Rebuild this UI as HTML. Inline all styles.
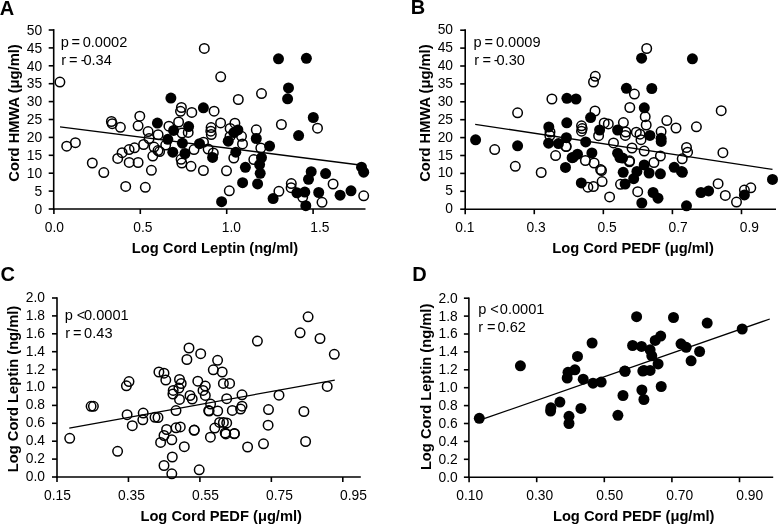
<!DOCTYPE html>
<html><head><meta charset="utf-8"><style>
html,body{margin:0;padding:0;background:#fff;}
body{width:778px;height:524px;overflow:hidden;}
svg{display:block;filter:grayscale(1);}
text{font-family:"Liberation Sans", sans-serif;fill:#000;}
.lbl{font-size:20px;font-weight:bold;}
.tk{font-size:13.8px;}
.st{font-size:14.6px;}
.tt{font-size:14.7px;font-weight:bold;}
.ax{stroke:#000;stroke-width:1.6;fill:none;}
.rl{stroke:#000;stroke-width:1.3;}
</style></head><body>
<svg width="778" height="524" viewBox="0 0 778 524">
<rect width="778" height="524" fill="#fff"/>
<text x="-0.2" y="14.7" class="lbl">A</text>
<line x1="53.7" y1="29.099999999999998" x2="53.7" y2="209.8" class="ax"/>
<line x1="52.900000000000006" y1="209.0" x2="365.5" y2="209.0" class="ax"/>
<line x1="48.7" y1="209.00" x2="53.7" y2="209.00" class="ax"/>
<text x="42.2" y="213.70" class="tk" text-anchor="end">0</text>
<line x1="48.7" y1="191.10" x2="53.7" y2="191.10" class="ax"/>
<text x="42.2" y="195.80" class="tk" text-anchor="end">5</text>
<line x1="48.7" y1="173.20" x2="53.7" y2="173.20" class="ax"/>
<text x="42.2" y="177.90" class="tk" text-anchor="end">10</text>
<line x1="48.7" y1="155.30" x2="53.7" y2="155.30" class="ax"/>
<text x="42.2" y="160.00" class="tk" text-anchor="end">15</text>
<line x1="48.7" y1="137.40" x2="53.7" y2="137.40" class="ax"/>
<text x="42.2" y="142.10" class="tk" text-anchor="end">20</text>
<line x1="48.7" y1="119.50" x2="53.7" y2="119.50" class="ax"/>
<text x="42.2" y="124.20" class="tk" text-anchor="end">25</text>
<line x1="48.7" y1="101.60" x2="53.7" y2="101.60" class="ax"/>
<text x="42.2" y="106.30" class="tk" text-anchor="end">30</text>
<line x1="48.7" y1="83.70" x2="53.7" y2="83.70" class="ax"/>
<text x="42.2" y="88.40" class="tk" text-anchor="end">35</text>
<line x1="48.7" y1="65.80" x2="53.7" y2="65.80" class="ax"/>
<text x="42.2" y="70.50" class="tk" text-anchor="end">40</text>
<line x1="48.7" y1="47.90" x2="53.7" y2="47.90" class="ax"/>
<text x="42.2" y="52.60" class="tk" text-anchor="end">45</text>
<line x1="48.7" y1="30.00" x2="53.7" y2="30.00" class="ax"/>
<text x="42.2" y="34.70" class="tk" text-anchor="end">50</text>
<line x1="53.90" y1="209.0" x2="53.90" y2="214.0" class="ax"/>
<line x1="140.30" y1="209.0" x2="140.30" y2="214.0" class="ax"/>
<line x1="226.70" y1="209.0" x2="226.70" y2="214.0" class="ax"/>
<line x1="313.10" y1="209.0" x2="313.10" y2="214.0" class="ax"/>
<text x="54.40" y="232" class="tk" text-anchor="middle">0.0</text>
<text x="142.90" y="232" class="tk" text-anchor="middle">0.5</text>
<text x="231.40" y="232" class="tk" text-anchor="middle">1.0</text>
<text x="319.90" y="232" class="tk" text-anchor="middle">1.5</text>
<text x="215.0" y="253.1" class="tt" text-anchor="middle">Log Cord Leptin (ng/ml)</text>
<text transform="translate(19.1,113) rotate(-90)" x="0" y="0" class="tt" text-anchor="middle">Cord HMWA (μg/ml)</text>
<text y="46.60" class="st"><tspan x="60.70">p</tspan><tspan x="71.40">=</tspan><tspan x="82.70">0.0002</tspan></text>
<text y="64.60" class="st"><tspan x="61.15">r</tspan><tspan x="69.00">=</tspan><tspan x="80.70">-</tspan><tspan x="83.40">0.34</tspan></text>
<line x1="60" y1="126.8" x2="360" y2="165.0" class="rl"/>
<circle cx="59.9" cy="82.1" r="4.75" fill="none" stroke="#000" stroke-width="1.5"/>
<circle cx="204.3" cy="48.4" r="4.75" fill="none" stroke="#000" stroke-width="1.5"/>
<circle cx="220.7" cy="76.8" r="4.75" fill="none" stroke="#000" stroke-width="1.5"/>
<circle cx="170.9" cy="98.1" r="5.5" fill="#000"/>
<circle cx="203.4" cy="107.8" r="5.5" fill="#000"/>
<circle cx="181.4" cy="107.5" r="4.75" fill="none" stroke="#000" stroke-width="1.5"/>
<circle cx="180.5" cy="111.3" r="4.75" fill="none" stroke="#000" stroke-width="1.5"/>
<circle cx="191.8" cy="112.4" r="4.75" fill="none" stroke="#000" stroke-width="1.5"/>
<circle cx="214.1" cy="111.2" r="4.75" fill="none" stroke="#000" stroke-width="1.5"/>
<circle cx="238.3" cy="99.5" r="4.75" fill="none" stroke="#000" stroke-width="1.5"/>
<circle cx="261.5" cy="93.6" r="4.75" fill="none" stroke="#000" stroke-width="1.5"/>
<circle cx="278.5" cy="58.8" r="5.5" fill="#000"/>
<circle cx="306.4" cy="58.3" r="5.5" fill="#000"/>
<circle cx="288.5" cy="87.9" r="5.5" fill="#000"/>
<circle cx="287.6" cy="98.8" r="5.5" fill="#000"/>
<circle cx="313.3" cy="117.5" r="5.5" fill="#000"/>
<circle cx="317.5" cy="128.2" r="4.75" fill="none" stroke="#000" stroke-width="1.5"/>
<circle cx="281.4" cy="124.5" r="4.75" fill="none" stroke="#000" stroke-width="1.5"/>
<circle cx="139.8" cy="116.2" r="4.75" fill="none" stroke="#000" stroke-width="1.5"/>
<circle cx="138.1" cy="125.8" r="4.75" fill="none" stroke="#000" stroke-width="1.5"/>
<circle cx="148.1" cy="131.6" r="4.75" fill="none" stroke="#000" stroke-width="1.5"/>
<circle cx="149.1" cy="138.6" r="4.75" fill="none" stroke="#000" stroke-width="1.5"/>
<circle cx="158.1" cy="134.7" r="4.75" fill="none" stroke="#000" stroke-width="1.5"/>
<circle cx="168.9" cy="126.2" r="4.75" fill="none" stroke="#000" stroke-width="1.5"/>
<circle cx="178.6" cy="122.0" r="4.75" fill="none" stroke="#000" stroke-width="1.5"/>
<circle cx="188.2" cy="132.4" r="4.75" fill="none" stroke="#000" stroke-width="1.5"/>
<circle cx="182.0" cy="133.1" r="4.75" fill="none" stroke="#000" stroke-width="1.5"/>
<circle cx="66.7" cy="146.2" r="4.75" fill="none" stroke="#000" stroke-width="1.5"/>
<circle cx="75.4" cy="142.7" r="4.75" fill="none" stroke="#000" stroke-width="1.5"/>
<circle cx="111.4" cy="121.5" r="4.75" fill="none" stroke="#000" stroke-width="1.5"/>
<circle cx="112.2" cy="123.7" r="4.75" fill="none" stroke="#000" stroke-width="1.5"/>
<circle cx="120.4" cy="127.3" r="4.75" fill="none" stroke="#000" stroke-width="1.5"/>
<circle cx="92.3" cy="163.0" r="4.75" fill="none" stroke="#000" stroke-width="1.5"/>
<circle cx="103.8" cy="172.6" r="4.75" fill="none" stroke="#000" stroke-width="1.5"/>
<circle cx="117.7" cy="158.4" r="4.75" fill="none" stroke="#000" stroke-width="1.5"/>
<circle cx="122.1" cy="152.7" r="4.75" fill="none" stroke="#000" stroke-width="1.5"/>
<circle cx="129.2" cy="162.4" r="4.75" fill="none" stroke="#000" stroke-width="1.5"/>
<circle cx="138.1" cy="162.5" r="4.75" fill="none" stroke="#000" stroke-width="1.5"/>
<circle cx="129.1" cy="149.6" r="4.75" fill="none" stroke="#000" stroke-width="1.5"/>
<circle cx="134.5" cy="147.8" r="4.75" fill="none" stroke="#000" stroke-width="1.5"/>
<circle cx="143.6" cy="144.5" r="4.75" fill="none" stroke="#000" stroke-width="1.5"/>
<circle cx="154.0" cy="147.1" r="4.75" fill="none" stroke="#000" stroke-width="1.5"/>
<circle cx="159.6" cy="151.6" r="4.75" fill="none" stroke="#000" stroke-width="1.5"/>
<circle cx="158.0" cy="150.6" r="4.75" fill="none" stroke="#000" stroke-width="1.5"/>
<circle cx="152.8" cy="156.1" r="4.75" fill="none" stroke="#000" stroke-width="1.5"/>
<circle cx="151.4" cy="170.3" r="4.75" fill="none" stroke="#000" stroke-width="1.5"/>
<circle cx="125.7" cy="186.4" r="4.75" fill="none" stroke="#000" stroke-width="1.5"/>
<circle cx="145.3" cy="187.3" r="4.75" fill="none" stroke="#000" stroke-width="1.5"/>
<circle cx="165.7" cy="145.1" r="4.75" fill="none" stroke="#000" stroke-width="1.5"/>
<circle cx="181.1" cy="159.3" r="4.75" fill="none" stroke="#000" stroke-width="1.5"/>
<circle cx="181.8" cy="163.1" r="4.75" fill="none" stroke="#000" stroke-width="1.5"/>
<circle cx="191.0" cy="166.3" r="4.75" fill="none" stroke="#000" stroke-width="1.5"/>
<circle cx="203.4" cy="170.5" r="4.75" fill="none" stroke="#000" stroke-width="1.5"/>
<circle cx="226.5" cy="170.8" r="4.75" fill="none" stroke="#000" stroke-width="1.5"/>
<circle cx="229.3" cy="190.8" r="4.75" fill="none" stroke="#000" stroke-width="1.5"/>
<circle cx="194.0" cy="149.6" r="4.75" fill="none" stroke="#000" stroke-width="1.5"/>
<circle cx="208.1" cy="149.0" r="4.75" fill="none" stroke="#000" stroke-width="1.5"/>
<circle cx="213.3" cy="153.0" r="4.75" fill="none" stroke="#000" stroke-width="1.5"/>
<circle cx="203.5" cy="142.2" r="4.75" fill="none" stroke="#000" stroke-width="1.5"/>
<circle cx="211.1" cy="127.6" r="4.75" fill="none" stroke="#000" stroke-width="1.5"/>
<circle cx="210.8" cy="131.2" r="4.75" fill="none" stroke="#000" stroke-width="1.5"/>
<circle cx="211.3" cy="134.5" r="4.75" fill="none" stroke="#000" stroke-width="1.5"/>
<circle cx="220.6" cy="122.9" r="4.75" fill="none" stroke="#000" stroke-width="1.5"/>
<circle cx="234.9" cy="123.2" r="4.75" fill="none" stroke="#000" stroke-width="1.5"/>
<circle cx="230.1" cy="128.4" r="4.75" fill="none" stroke="#000" stroke-width="1.5"/>
<circle cx="230.0" cy="136.4" r="4.75" fill="none" stroke="#000" stroke-width="1.5"/>
<circle cx="241.5" cy="136.3" r="4.75" fill="none" stroke="#000" stroke-width="1.5"/>
<circle cx="242.5" cy="143.9" r="4.75" fill="none" stroke="#000" stroke-width="1.5"/>
<circle cx="233.8" cy="158.0" r="4.75" fill="none" stroke="#000" stroke-width="1.5"/>
<circle cx="253.8" cy="159.6" r="4.75" fill="none" stroke="#000" stroke-width="1.5"/>
<circle cx="260.8" cy="148.0" r="4.75" fill="none" stroke="#000" stroke-width="1.5"/>
<circle cx="256.3" cy="129.8" r="4.75" fill="none" stroke="#000" stroke-width="1.5"/>
<circle cx="291.3" cy="183.6" r="4.75" fill="none" stroke="#000" stroke-width="1.5"/>
<circle cx="291.1" cy="187.7" r="4.75" fill="none" stroke="#000" stroke-width="1.5"/>
<circle cx="278.9" cy="191.3" r="4.75" fill="none" stroke="#000" stroke-width="1.5"/>
<circle cx="302.7" cy="197.3" r="4.75" fill="none" stroke="#000" stroke-width="1.5"/>
<circle cx="333.1" cy="184.0" r="4.75" fill="none" stroke="#000" stroke-width="1.5"/>
<circle cx="322.0" cy="202.3" r="4.75" fill="none" stroke="#000" stroke-width="1.5"/>
<circle cx="363.7" cy="195.8" r="4.75" fill="none" stroke="#000" stroke-width="1.5"/>
<circle cx="157.4" cy="123.1" r="5.5" fill="#000"/>
<circle cx="173.6" cy="130.4" r="5.5" fill="#000"/>
<circle cx="188.6" cy="126.6" r="5.5" fill="#000"/>
<circle cx="167.8" cy="139.3" r="5.5" fill="#000"/>
<circle cx="182.4" cy="143.2" r="5.5" fill="#000"/>
<circle cx="199.5" cy="143.7" r="5.5" fill="#000"/>
<circle cx="228.2" cy="141.2" r="5.5" fill="#000"/>
<circle cx="237.9" cy="129.9" r="5.5" fill="#000"/>
<circle cx="172.8" cy="152.2" r="5.5" fill="#000"/>
<circle cx="185.0" cy="153.5" r="5.5" fill="#000"/>
<circle cx="212.6" cy="157.4" r="5.5" fill="#000"/>
<circle cx="235.8" cy="152.2" r="5.5" fill="#000"/>
<circle cx="233.9" cy="132.6" r="5.5" fill="#000"/>
<circle cx="256.3" cy="138.5" r="5.5" fill="#000"/>
<circle cx="269.6" cy="146.1" r="5.5" fill="#000"/>
<circle cx="298.6" cy="135.6" r="5.5" fill="#000"/>
<circle cx="261.5" cy="157.6" r="5.5" fill="#000"/>
<circle cx="245.4" cy="167.3" r="5.5" fill="#000"/>
<circle cx="259.6" cy="164.6" r="5.5" fill="#000"/>
<circle cx="260.2" cy="173.3" r="5.5" fill="#000"/>
<circle cx="242.6" cy="182.7" r="5.5" fill="#000"/>
<circle cx="257.6" cy="183.9" r="5.5" fill="#000"/>
<circle cx="221.6" cy="201.7" r="5.5" fill="#000"/>
<circle cx="311.2" cy="171.7" r="5.5" fill="#000"/>
<circle cx="308.5" cy="179.3" r="5.5" fill="#000"/>
<circle cx="325.6" cy="173.6" r="5.5" fill="#000"/>
<circle cx="273.1" cy="198.6" r="5.5" fill="#000"/>
<circle cx="296.9" cy="192.8" r="5.5" fill="#000"/>
<circle cx="304.8" cy="192.1" r="5.5" fill="#000"/>
<circle cx="305.8" cy="205.7" r="5.5" fill="#000"/>
<circle cx="318.7" cy="192.5" r="5.5" fill="#000"/>
<circle cx="340.1" cy="195.2" r="5.5" fill="#000"/>
<circle cx="351.0" cy="190.8" r="5.5" fill="#000"/>
<circle cx="361.5" cy="167.2" r="5.5" fill="#000"/>
<circle cx="363.7" cy="172.2" r="5.5" fill="#000"/>
<text x="410.8" y="14.4" class="lbl">B</text>
<line x1="465.2" y1="29.3" x2="465.2" y2="210.0" class="ax"/>
<line x1="464.4" y1="209.2" x2="776" y2="209.2" class="ax"/>
<line x1="460.2" y1="209.20" x2="465.2" y2="209.20" class="ax"/>
<text x="453" y="213.20" class="tk" text-anchor="end">0</text>
<line x1="460.2" y1="191.30" x2="465.2" y2="191.30" class="ax"/>
<text x="453" y="195.30" class="tk" text-anchor="end">5</text>
<line x1="460.2" y1="173.40" x2="465.2" y2="173.40" class="ax"/>
<text x="453" y="177.40" class="tk" text-anchor="end">10</text>
<line x1="460.2" y1="155.50" x2="465.2" y2="155.50" class="ax"/>
<text x="453" y="159.50" class="tk" text-anchor="end">15</text>
<line x1="460.2" y1="137.60" x2="465.2" y2="137.60" class="ax"/>
<text x="453" y="141.60" class="tk" text-anchor="end">20</text>
<line x1="460.2" y1="119.70" x2="465.2" y2="119.70" class="ax"/>
<text x="453" y="123.70" class="tk" text-anchor="end">25</text>
<line x1="460.2" y1="101.80" x2="465.2" y2="101.80" class="ax"/>
<text x="453" y="105.80" class="tk" text-anchor="end">30</text>
<line x1="460.2" y1="83.90" x2="465.2" y2="83.90" class="ax"/>
<text x="453" y="87.90" class="tk" text-anchor="end">35</text>
<line x1="460.2" y1="66.00" x2="465.2" y2="66.00" class="ax"/>
<text x="453" y="70.00" class="tk" text-anchor="end">40</text>
<line x1="460.2" y1="48.10" x2="465.2" y2="48.10" class="ax"/>
<text x="453" y="52.10" class="tk" text-anchor="end">45</text>
<line x1="460.2" y1="30.20" x2="465.2" y2="30.20" class="ax"/>
<text x="453" y="34.20" class="tk" text-anchor="end">50</text>
<line x1="465.20" y1="209.2" x2="465.20" y2="214.2" class="ax"/>
<line x1="534.27" y1="209.2" x2="534.27" y2="214.2" class="ax"/>
<line x1="603.34" y1="209.2" x2="603.34" y2="214.2" class="ax"/>
<line x1="672.41" y1="209.2" x2="672.41" y2="214.2" class="ax"/>
<line x1="741.48" y1="209.2" x2="741.48" y2="214.2" class="ax"/>
<text x="464.90" y="231.5" class="tk" text-anchor="middle">0.1</text>
<text x="536.00" y="231.5" class="tk" text-anchor="middle">0.3</text>
<text x="607.10" y="231.5" class="tk" text-anchor="middle">0.5</text>
<text x="678.20" y="231.5" class="tk" text-anchor="middle">0.7</text>
<text x="749.30" y="231.5" class="tk" text-anchor="middle">0.9</text>
<text x="633" y="252.8" class="tt" text-anchor="middle">Log Cord PEDF (μg/ml)</text>
<text transform="translate(430.1,113.1) rotate(-90)" x="0" y="0" class="tt" text-anchor="middle">Cord HMWA (μg/ml)</text>
<text y="47.40" class="st"><tspan x="473.40">p</tspan><tspan x="484.60">=</tspan><tspan x="495.90">0.0009</tspan></text>
<text y="64.60" class="st"><tspan x="474.15">r</tspan><tspan x="482.40">=</tspan><tspan x="493.70">-</tspan><tspan x="496.50">0.30</tspan></text>
<line x1="475.2" y1="124.3" x2="772.5" y2="169.4" class="rl"/>
<circle cx="517.6" cy="112.8" r="4.75" fill="none" stroke="#000" stroke-width="1.5"/>
<circle cx="551.9" cy="99.0" r="4.75" fill="none" stroke="#000" stroke-width="1.5"/>
<circle cx="494.7" cy="149.6" r="4.75" fill="none" stroke="#000" stroke-width="1.5"/>
<circle cx="515.3" cy="166.3" r="4.75" fill="none" stroke="#000" stroke-width="1.5"/>
<circle cx="541.2" cy="172.5" r="4.75" fill="none" stroke="#000" stroke-width="1.5"/>
<circle cx="555.6" cy="155.6" r="4.75" fill="none" stroke="#000" stroke-width="1.5"/>
<circle cx="595.3" cy="76.3" r="4.75" fill="none" stroke="#000" stroke-width="1.5"/>
<circle cx="593.5" cy="82.0" r="4.75" fill="none" stroke="#000" stroke-width="1.5"/>
<circle cx="646.7" cy="48.5" r="4.75" fill="none" stroke="#000" stroke-width="1.5"/>
<circle cx="550.0" cy="132.0" r="4.75" fill="none" stroke="#000" stroke-width="1.5"/>
<circle cx="549.8" cy="135.5" r="4.75" fill="none" stroke="#000" stroke-width="1.5"/>
<circle cx="566.0" cy="146.4" r="4.75" fill="none" stroke="#000" stroke-width="1.5"/>
<circle cx="595.0" cy="111.0" r="4.75" fill="none" stroke="#000" stroke-width="1.5"/>
<circle cx="581.5" cy="125.8" r="4.75" fill="none" stroke="#000" stroke-width="1.5"/>
<circle cx="582.2" cy="128.6" r="4.75" fill="none" stroke="#000" stroke-width="1.5"/>
<circle cx="581.5" cy="131.2" r="4.75" fill="none" stroke="#000" stroke-width="1.5"/>
<circle cx="604.2" cy="122.9" r="4.75" fill="none" stroke="#000" stroke-width="1.5"/>
<circle cx="608.3" cy="123.9" r="4.75" fill="none" stroke="#000" stroke-width="1.5"/>
<circle cx="623.4" cy="122.6" r="4.75" fill="none" stroke="#000" stroke-width="1.5"/>
<circle cx="598.6" cy="135.7" r="4.75" fill="none" stroke="#000" stroke-width="1.5"/>
<circle cx="625.3" cy="135.4" r="4.75" fill="none" stroke="#000" stroke-width="1.5"/>
<circle cx="625.8" cy="132.0" r="4.75" fill="none" stroke="#000" stroke-width="1.5"/>
<circle cx="636.3" cy="132.2" r="4.75" fill="none" stroke="#000" stroke-width="1.5"/>
<circle cx="640.0" cy="134.2" r="4.75" fill="none" stroke="#000" stroke-width="1.5"/>
<circle cx="566.2" cy="146.5" r="4.75" fill="none" stroke="#000" stroke-width="1.5"/>
<circle cx="613.5" cy="142.9" r="4.75" fill="none" stroke="#000" stroke-width="1.5"/>
<circle cx="632.0" cy="148.0" r="4.75" fill="none" stroke="#000" stroke-width="1.5"/>
<circle cx="634.4" cy="94.1" r="4.75" fill="none" stroke="#000" stroke-width="1.5"/>
<circle cx="629.8" cy="107.5" r="4.75" fill="none" stroke="#000" stroke-width="1.5"/>
<circle cx="645.2" cy="116.7" r="4.75" fill="none" stroke="#000" stroke-width="1.5"/>
<circle cx="646.2" cy="125.0" r="4.75" fill="none" stroke="#000" stroke-width="1.5"/>
<circle cx="666.8" cy="120.6" r="4.75" fill="none" stroke="#000" stroke-width="1.5"/>
<circle cx="676.0" cy="128.0" r="4.75" fill="none" stroke="#000" stroke-width="1.5"/>
<circle cx="696.4" cy="126.8" r="4.75" fill="none" stroke="#000" stroke-width="1.5"/>
<circle cx="661.1" cy="131.6" r="4.75" fill="none" stroke="#000" stroke-width="1.5"/>
<circle cx="641.0" cy="139.7" r="4.75" fill="none" stroke="#000" stroke-width="1.5"/>
<circle cx="644.2" cy="151.1" r="4.75" fill="none" stroke="#000" stroke-width="1.5"/>
<circle cx="629.6" cy="160.8" r="4.75" fill="none" stroke="#000" stroke-width="1.5"/>
<circle cx="660.4" cy="156.0" r="4.75" fill="none" stroke="#000" stroke-width="1.5"/>
<circle cx="653.9" cy="162.5" r="4.75" fill="none" stroke="#000" stroke-width="1.5"/>
<circle cx="686.5" cy="147.5" r="4.75" fill="none" stroke="#000" stroke-width="1.5"/>
<circle cx="687.6" cy="152.2" r="4.75" fill="none" stroke="#000" stroke-width="1.5"/>
<circle cx="682.2" cy="158.8" r="4.75" fill="none" stroke="#000" stroke-width="1.5"/>
<circle cx="721.2" cy="110.7" r="4.75" fill="none" stroke="#000" stroke-width="1.5"/>
<circle cx="722.9" cy="152.7" r="4.75" fill="none" stroke="#000" stroke-width="1.5"/>
<circle cx="718.1" cy="183.7" r="4.75" fill="none" stroke="#000" stroke-width="1.5"/>
<circle cx="725.3" cy="195.4" r="4.75" fill="none" stroke="#000" stroke-width="1.5"/>
<circle cx="736.5" cy="202.1" r="4.75" fill="none" stroke="#000" stroke-width="1.5"/>
<circle cx="744.4" cy="190.1" r="4.75" fill="none" stroke="#000" stroke-width="1.5"/>
<circle cx="750.8" cy="187.8" r="4.75" fill="none" stroke="#000" stroke-width="1.5"/>
<circle cx="585.4" cy="160.5" r="4.75" fill="none" stroke="#000" stroke-width="1.5"/>
<circle cx="594.1" cy="163.0" r="4.75" fill="none" stroke="#000" stroke-width="1.5"/>
<circle cx="601.5" cy="170.5" r="4.75" fill="none" stroke="#000" stroke-width="1.5"/>
<circle cx="600.6" cy="169.6" r="4.75" fill="none" stroke="#000" stroke-width="1.5"/>
<circle cx="602.1" cy="181.6" r="4.75" fill="none" stroke="#000" stroke-width="1.5"/>
<circle cx="587.9" cy="187.2" r="4.75" fill="none" stroke="#000" stroke-width="1.5"/>
<circle cx="593.4" cy="186.6" r="4.75" fill="none" stroke="#000" stroke-width="1.5"/>
<circle cx="609.6" cy="196.9" r="4.75" fill="none" stroke="#000" stroke-width="1.5"/>
<circle cx="629.4" cy="161.8" r="4.75" fill="none" stroke="#000" stroke-width="1.5"/>
<circle cx="620.5" cy="184.3" r="4.75" fill="none" stroke="#000" stroke-width="1.5"/>
<circle cx="637.7" cy="191.7" r="4.75" fill="none" stroke="#000" stroke-width="1.5"/>
<circle cx="475.6" cy="139.8" r="5.5" fill="#000"/>
<circle cx="517.6" cy="145.8" r="5.5" fill="#000"/>
<circle cx="548.8" cy="126.9" r="5.5" fill="#000"/>
<circle cx="548.6" cy="143.2" r="5.5" fill="#000"/>
<circle cx="558.5" cy="143.6" r="5.5" fill="#000"/>
<circle cx="566.9" cy="98.3" r="5.5" fill="#000"/>
<circle cx="576.0" cy="99.0" r="5.5" fill="#000"/>
<circle cx="566.8" cy="122.8" r="5.5" fill="#000"/>
<circle cx="590.6" cy="117.6" r="5.5" fill="#000"/>
<circle cx="566.4" cy="137.7" r="5.5" fill="#000"/>
<circle cx="585.7" cy="141.9" r="5.5" fill="#000"/>
<circle cx="599.6" cy="130.0" r="5.5" fill="#000"/>
<circle cx="617.6" cy="130.0" r="5.5" fill="#000"/>
<circle cx="577.5" cy="154.2" r="5.5" fill="#000"/>
<circle cx="591.9" cy="152.9" r="5.5" fill="#000"/>
<circle cx="573.0" cy="157.4" r="5.5" fill="#000"/>
<circle cx="565.5" cy="167.4" r="5.5" fill="#000"/>
<circle cx="572.1" cy="157.7" r="5.5" fill="#000"/>
<circle cx="617.6" cy="153.2" r="5.5" fill="#000"/>
<circle cx="622.6" cy="158.1" r="5.5" fill="#000"/>
<circle cx="619.9" cy="157.6" r="5.5" fill="#000"/>
<circle cx="623.2" cy="172.3" r="5.5" fill="#000"/>
<circle cx="625.1" cy="184.0" r="5.5" fill="#000"/>
<circle cx="633.7" cy="178.7" r="5.5" fill="#000"/>
<circle cx="636.9" cy="171.4" r="5.5" fill="#000"/>
<circle cx="644.2" cy="164.9" r="5.5" fill="#000"/>
<circle cx="649.1" cy="173.0" r="5.5" fill="#000"/>
<circle cx="660.4" cy="173.8" r="5.5" fill="#000"/>
<circle cx="674.2" cy="167.3" r="5.5" fill="#000"/>
<circle cx="681.5" cy="171.4" r="5.5" fill="#000"/>
<circle cx="653.1" cy="192.5" r="5.5" fill="#000"/>
<circle cx="658.0" cy="198.2" r="5.5" fill="#000"/>
<circle cx="641.8" cy="203.0" r="5.5" fill="#000"/>
<circle cx="686.5" cy="205.8" r="5.5" fill="#000"/>
<circle cx="581.3" cy="182.9" r="5.5" fill="#000"/>
<circle cx="641.6" cy="58.2" r="5.5" fill="#000"/>
<circle cx="692.4" cy="58.8" r="5.5" fill="#000"/>
<circle cx="626.4" cy="88.3" r="5.5" fill="#000"/>
<circle cx="651.8" cy="88.5" r="5.5" fill="#000"/>
<circle cx="644.3" cy="107.8" r="5.5" fill="#000"/>
<circle cx="649.9" cy="135.4" r="5.5" fill="#000"/>
<circle cx="661.1" cy="138.3" r="5.5" fill="#000"/>
<circle cx="661.2" cy="141.4" r="5.5" fill="#000"/>
<circle cx="682.4" cy="172.3" r="5.5" fill="#000"/>
<circle cx="701.0" cy="192.5" r="5.5" fill="#000"/>
<circle cx="708.6" cy="190.9" r="5.5" fill="#000"/>
<circle cx="744.4" cy="194.9" r="5.5" fill="#000"/>
<circle cx="772.5" cy="179.4" r="5.5" fill="#000"/>
<text x="0.5" y="281.3" class="lbl">C</text>
<line x1="57.0" y1="297.2" x2="57.0" y2="477.8" class="ax"/>
<line x1="56.2" y1="477.0" x2="360.8" y2="477.0" class="ax"/>
<line x1="52.0" y1="477.00" x2="57.0" y2="477.00" class="ax"/>
<text x="45" y="480.90" class="tk" text-anchor="end">0.0</text>
<line x1="52.0" y1="459.10" x2="57.0" y2="459.10" class="ax"/>
<text x="45" y="463.00" class="tk" text-anchor="end">0.2</text>
<line x1="52.0" y1="441.20" x2="57.0" y2="441.20" class="ax"/>
<text x="45" y="445.10" class="tk" text-anchor="end">0.4</text>
<line x1="52.0" y1="423.30" x2="57.0" y2="423.30" class="ax"/>
<text x="45" y="427.20" class="tk" text-anchor="end">0.6</text>
<line x1="52.0" y1="405.40" x2="57.0" y2="405.40" class="ax"/>
<text x="45" y="409.30" class="tk" text-anchor="end">0.8</text>
<line x1="52.0" y1="387.50" x2="57.0" y2="387.50" class="ax"/>
<text x="45" y="391.40" class="tk" text-anchor="end">1.0</text>
<line x1="52.0" y1="369.60" x2="57.0" y2="369.60" class="ax"/>
<text x="45" y="373.50" class="tk" text-anchor="end">1.2</text>
<line x1="52.0" y1="351.70" x2="57.0" y2="351.70" class="ax"/>
<text x="45" y="355.60" class="tk" text-anchor="end">1.4</text>
<line x1="52.0" y1="333.80" x2="57.0" y2="333.80" class="ax"/>
<text x="45" y="337.70" class="tk" text-anchor="end">1.6</text>
<line x1="52.0" y1="315.90" x2="57.0" y2="315.90" class="ax"/>
<text x="45" y="319.80" class="tk" text-anchor="end">1.8</text>
<line x1="52.0" y1="298.00" x2="57.0" y2="298.00" class="ax"/>
<text x="45" y="301.90" class="tk" text-anchor="end">2.0</text>
<line x1="57.00" y1="477.0" x2="57.00" y2="482.0" class="ax"/>
<line x1="128.45" y1="477.0" x2="128.45" y2="482.0" class="ax"/>
<line x1="199.90" y1="477.0" x2="199.90" y2="482.0" class="ax"/>
<line x1="271.35" y1="477.0" x2="271.35" y2="482.0" class="ax"/>
<line x1="342.80" y1="477.0" x2="342.80" y2="482.0" class="ax"/>
<text x="57.40" y="499.5" class="tk" text-anchor="middle">0.15</text>
<text x="131.40" y="499.5" class="tk" text-anchor="middle">0.35</text>
<text x="205.40" y="499.5" class="tk" text-anchor="middle">0.55</text>
<text x="279.40" y="499.5" class="tk" text-anchor="middle">0.75</text>
<text x="353.40" y="499.5" class="tk" text-anchor="middle">0.95</text>
<text x="221.2" y="521" class="tt" text-anchor="middle">Log Cord PEDF (μg/ml)</text>
<text transform="translate(18.4,389) rotate(-90)" x="0" y="0" class="tt" text-anchor="middle">Log Cord Leptin (ng/ml)</text>
<text y="320.40" class="st"><tspan x="64.70">p</tspan><tspan x="76.80">&lt;</tspan><tspan x="84.00">0.0001</tspan></text>
<text y="338.40" class="st"><tspan x="65.35">r</tspan><tspan x="73.00">=</tspan><tspan x="84.10">0.43</tspan></text>
<line x1="69.3" y1="428.1" x2="334.8" y2="380.1" class="rl"/>
<circle cx="69.7" cy="438.3" r="4.75" fill="none" stroke="#000" stroke-width="1.5"/>
<circle cx="117.6" cy="451.3" r="4.75" fill="none" stroke="#000" stroke-width="1.5"/>
<circle cx="91.1" cy="406.3" r="4.75" fill="none" stroke="#000" stroke-width="1.5"/>
<circle cx="93.4" cy="406.3" r="4.75" fill="none" stroke="#000" stroke-width="1.5"/>
<circle cx="126.4" cy="385.8" r="4.75" fill="none" stroke="#000" stroke-width="1.5"/>
<circle cx="129.0" cy="381.6" r="4.75" fill="none" stroke="#000" stroke-width="1.5"/>
<circle cx="127.1" cy="414.7" r="4.75" fill="none" stroke="#000" stroke-width="1.5"/>
<circle cx="132.3" cy="425.7" r="4.75" fill="none" stroke="#000" stroke-width="1.5"/>
<circle cx="143.2" cy="413.1" r="4.75" fill="none" stroke="#000" stroke-width="1.5"/>
<circle cx="142.8" cy="419.8" r="4.75" fill="none" stroke="#000" stroke-width="1.5"/>
<circle cx="155.0" cy="417.3" r="4.75" fill="none" stroke="#000" stroke-width="1.5"/>
<circle cx="158.0" cy="417.5" r="4.75" fill="none" stroke="#000" stroke-width="1.5"/>
<circle cx="189.0" cy="348.0" r="4.75" fill="none" stroke="#000" stroke-width="1.5"/>
<circle cx="186.9" cy="359.5" r="4.75" fill="none" stroke="#000" stroke-width="1.5"/>
<circle cx="200.7" cy="353.7" r="4.75" fill="none" stroke="#000" stroke-width="1.5"/>
<circle cx="217.6" cy="360.3" r="4.75" fill="none" stroke="#000" stroke-width="1.5"/>
<circle cx="213.3" cy="369.8" r="4.75" fill="none" stroke="#000" stroke-width="1.5"/>
<circle cx="222.2" cy="372.0" r="4.75" fill="none" stroke="#000" stroke-width="1.5"/>
<circle cx="158.9" cy="372.0" r="4.75" fill="none" stroke="#000" stroke-width="1.5"/>
<circle cx="164.0" cy="373.2" r="4.75" fill="none" stroke="#000" stroke-width="1.5"/>
<circle cx="165.8" cy="380.1" r="4.75" fill="none" stroke="#000" stroke-width="1.5"/>
<circle cx="179.5" cy="379.5" r="4.75" fill="none" stroke="#000" stroke-width="1.5"/>
<circle cx="181.2" cy="383.5" r="4.75" fill="none" stroke="#000" stroke-width="1.5"/>
<circle cx="178.9" cy="388.1" r="4.75" fill="none" stroke="#000" stroke-width="1.5"/>
<circle cx="173.2" cy="390.4" r="4.75" fill="none" stroke="#000" stroke-width="1.5"/>
<circle cx="172.9" cy="394.0" r="4.75" fill="none" stroke="#000" stroke-width="1.5"/>
<circle cx="197.8" cy="381.2" r="4.75" fill="none" stroke="#000" stroke-width="1.5"/>
<circle cx="205.3" cy="386.1" r="4.75" fill="none" stroke="#000" stroke-width="1.5"/>
<circle cx="203.0" cy="390.4" r="4.75" fill="none" stroke="#000" stroke-width="1.5"/>
<circle cx="205.3" cy="395.4" r="4.75" fill="none" stroke="#000" stroke-width="1.5"/>
<circle cx="190.0" cy="395.5" r="4.75" fill="none" stroke="#000" stroke-width="1.5"/>
<circle cx="179.5" cy="399.4" r="4.75" fill="none" stroke="#000" stroke-width="1.5"/>
<circle cx="192.2" cy="399.0" r="4.75" fill="none" stroke="#000" stroke-width="1.5"/>
<circle cx="176.0" cy="410.6" r="4.75" fill="none" stroke="#000" stroke-width="1.5"/>
<circle cx="166.6" cy="429.5" r="4.75" fill="none" stroke="#000" stroke-width="1.5"/>
<circle cx="164.0" cy="435.5" r="4.75" fill="none" stroke="#000" stroke-width="1.5"/>
<circle cx="160.6" cy="442.4" r="4.75" fill="none" stroke="#000" stroke-width="1.5"/>
<circle cx="171.8" cy="439.8" r="4.75" fill="none" stroke="#000" stroke-width="1.5"/>
<circle cx="176.0" cy="427.8" r="4.75" fill="none" stroke="#000" stroke-width="1.5"/>
<circle cx="180.3" cy="426.9" r="4.75" fill="none" stroke="#000" stroke-width="1.5"/>
<circle cx="194.1" cy="430.3" r="4.75" fill="none" stroke="#000" stroke-width="1.5"/>
<circle cx="184.3" cy="446.7" r="4.75" fill="none" stroke="#000" stroke-width="1.5"/>
<circle cx="172.3" cy="457.0" r="4.75" fill="none" stroke="#000" stroke-width="1.5"/>
<circle cx="164.0" cy="465.5" r="4.75" fill="none" stroke="#000" stroke-width="1.5"/>
<circle cx="171.8" cy="473.8" r="4.75" fill="none" stroke="#000" stroke-width="1.5"/>
<circle cx="199.2" cy="469.8" r="4.75" fill="none" stroke="#000" stroke-width="1.5"/>
<circle cx="210.4" cy="437.2" r="4.75" fill="none" stroke="#000" stroke-width="1.5"/>
<circle cx="214.8" cy="428.1" r="4.75" fill="none" stroke="#000" stroke-width="1.5"/>
<circle cx="219.6" cy="422.4" r="4.75" fill="none" stroke="#000" stroke-width="1.5"/>
<circle cx="223.4" cy="422.4" r="4.75" fill="none" stroke="#000" stroke-width="1.5"/>
<circle cx="226.7" cy="422.9" r="4.75" fill="none" stroke="#000" stroke-width="1.5"/>
<circle cx="225.8" cy="433.9" r="4.75" fill="none" stroke="#000" stroke-width="1.5"/>
<circle cx="225.2" cy="432.9" r="4.75" fill="none" stroke="#000" stroke-width="1.5"/>
<circle cx="234.4" cy="433.4" r="4.75" fill="none" stroke="#000" stroke-width="1.5"/>
<circle cx="194.3" cy="430.1" r="4.75" fill="none" stroke="#000" stroke-width="1.5"/>
<circle cx="209.1" cy="411.0" r="4.75" fill="none" stroke="#000" stroke-width="1.5"/>
<circle cx="217.7" cy="411.0" r="4.75" fill="none" stroke="#000" stroke-width="1.5"/>
<circle cx="232.3" cy="410.4" r="4.75" fill="none" stroke="#000" stroke-width="1.5"/>
<circle cx="240.6" cy="409.1" r="4.75" fill="none" stroke="#000" stroke-width="1.5"/>
<circle cx="242.0" cy="406.2" r="4.75" fill="none" stroke="#000" stroke-width="1.5"/>
<circle cx="210.6" cy="404.1" r="4.75" fill="none" stroke="#000" stroke-width="1.5"/>
<circle cx="208.7" cy="410.6" r="4.75" fill="none" stroke="#000" stroke-width="1.5"/>
<circle cx="223.4" cy="383.4" r="4.75" fill="none" stroke="#000" stroke-width="1.5"/>
<circle cx="229.6" cy="383.4" r="4.75" fill="none" stroke="#000" stroke-width="1.5"/>
<circle cx="226.7" cy="398.7" r="4.75" fill="none" stroke="#000" stroke-width="1.5"/>
<circle cx="242.0" cy="394.8" r="4.75" fill="none" stroke="#000" stroke-width="1.5"/>
<circle cx="257.4" cy="341.1" r="4.75" fill="none" stroke="#000" stroke-width="1.5"/>
<circle cx="268.5" cy="409.6" r="4.75" fill="none" stroke="#000" stroke-width="1.5"/>
<circle cx="268.1" cy="425.2" r="4.75" fill="none" stroke="#000" stroke-width="1.5"/>
<circle cx="263.5" cy="443.8" r="4.75" fill="none" stroke="#000" stroke-width="1.5"/>
<circle cx="247.6" cy="447.0" r="4.75" fill="none" stroke="#000" stroke-width="1.5"/>
<circle cx="234.3" cy="433.8" r="4.75" fill="none" stroke="#000" stroke-width="1.5"/>
<circle cx="279.0" cy="395.2" r="4.75" fill="none" stroke="#000" stroke-width="1.5"/>
<circle cx="300.1" cy="332.8" r="4.75" fill="none" stroke="#000" stroke-width="1.5"/>
<circle cx="308.1" cy="316.8" r="4.75" fill="none" stroke="#000" stroke-width="1.5"/>
<circle cx="320.0" cy="338.5" r="4.75" fill="none" stroke="#000" stroke-width="1.5"/>
<circle cx="334.3" cy="354.3" r="4.75" fill="none" stroke="#000" stroke-width="1.5"/>
<circle cx="327.2" cy="386.4" r="4.75" fill="none" stroke="#000" stroke-width="1.5"/>
<circle cx="303.9" cy="411.5" r="4.75" fill="none" stroke="#000" stroke-width="1.5"/>
<circle cx="305.6" cy="441.5" r="4.75" fill="none" stroke="#000" stroke-width="1.5"/>
<text x="412.2" y="281.3" class="lbl">D</text>
<line x1="468.9" y1="297.4" x2="468.9" y2="478.0" class="ax"/>
<line x1="468.09999999999997" y1="477.2" x2="773.2" y2="477.2" class="ax"/>
<line x1="463.9" y1="477.20" x2="468.9" y2="477.20" class="ax"/>
<text x="457.7" y="481.60" class="tk" text-anchor="end">0.0</text>
<line x1="463.9" y1="459.30" x2="468.9" y2="459.30" class="ax"/>
<text x="457.7" y="463.70" class="tk" text-anchor="end">0.2</text>
<line x1="463.9" y1="441.40" x2="468.9" y2="441.40" class="ax"/>
<text x="457.7" y="445.80" class="tk" text-anchor="end">0.4</text>
<line x1="463.9" y1="423.50" x2="468.9" y2="423.50" class="ax"/>
<text x="457.7" y="427.90" class="tk" text-anchor="end">0.6</text>
<line x1="463.9" y1="405.60" x2="468.9" y2="405.60" class="ax"/>
<text x="457.7" y="410.00" class="tk" text-anchor="end">0.8</text>
<line x1="463.9" y1="387.70" x2="468.9" y2="387.70" class="ax"/>
<text x="457.7" y="392.10" class="tk" text-anchor="end">1.0</text>
<line x1="463.9" y1="369.80" x2="468.9" y2="369.80" class="ax"/>
<text x="457.7" y="374.20" class="tk" text-anchor="end">1.2</text>
<line x1="463.9" y1="351.90" x2="468.9" y2="351.90" class="ax"/>
<text x="457.7" y="356.30" class="tk" text-anchor="end">1.4</text>
<line x1="463.9" y1="334.00" x2="468.9" y2="334.00" class="ax"/>
<text x="457.7" y="338.40" class="tk" text-anchor="end">1.6</text>
<line x1="463.9" y1="316.10" x2="468.9" y2="316.10" class="ax"/>
<text x="457.7" y="320.50" class="tk" text-anchor="end">1.8</text>
<line x1="463.9" y1="298.20" x2="468.9" y2="298.20" class="ax"/>
<text x="457.7" y="302.60" class="tk" text-anchor="end">2.0</text>
<line x1="469.10" y1="477.2" x2="469.10" y2="482.2" class="ax"/>
<line x1="536.70" y1="477.2" x2="536.70" y2="482.2" class="ax"/>
<line x1="604.30" y1="477.2" x2="604.30" y2="482.2" class="ax"/>
<line x1="671.90" y1="477.2" x2="671.90" y2="482.2" class="ax"/>
<line x1="739.50" y1="477.2" x2="739.50" y2="482.2" class="ax"/>
<text x="469.80" y="499.5" class="tk" text-anchor="middle">0.10</text>
<text x="539.80" y="499.5" class="tk" text-anchor="middle">0.30</text>
<text x="609.80" y="499.5" class="tk" text-anchor="middle">0.50</text>
<text x="679.80" y="499.5" class="tk" text-anchor="middle">0.70</text>
<text x="749.80" y="499.5" class="tk" text-anchor="middle">0.90</text>
<text x="633.7" y="521" class="tt" text-anchor="middle">Log Cord PEDF (μg/ml)</text>
<text transform="translate(431.3,386.9) rotate(-90)" x="0" y="0" class="tt" text-anchor="middle">Log Cord Leptin (ng/ml)</text>
<text y="314.40" class="st"><tspan x="478.20">p</tspan><tspan x="490.30">&lt;</tspan><tspan x="499.80">0.0001</tspan></text>
<text y="332.40" class="st"><tspan x="478.35">r</tspan><tspan x="486.90">=</tspan><tspan x="497.50">0.62</tspan></text>
<line x1="484.1" y1="418.7" x2="769.8" y2="319" class="rl"/>
<circle cx="479.3" cy="418.3" r="5.5" fill="#000"/>
<circle cx="520.4" cy="365.8" r="5.5" fill="#000"/>
<circle cx="550.9" cy="407.8" r="5.5" fill="#000"/>
<circle cx="550.6" cy="411.0" r="5.5" fill="#000"/>
<circle cx="559.9" cy="402.1" r="5.5" fill="#000"/>
<circle cx="569.0" cy="416.3" r="5.5" fill="#000"/>
<circle cx="569.0" cy="423.5" r="5.5" fill="#000"/>
<circle cx="567.2" cy="378.0" r="5.5" fill="#000"/>
<circle cx="568.0" cy="372.3" r="5.5" fill="#000"/>
<circle cx="574.9" cy="369.8" r="5.5" fill="#000"/>
<circle cx="577.5" cy="356.4" r="5.5" fill="#000"/>
<circle cx="583.2" cy="379.2" r="5.5" fill="#000"/>
<circle cx="593.0" cy="383.2" r="5.5" fill="#000"/>
<circle cx="601.2" cy="382.1" r="5.5" fill="#000"/>
<circle cx="592.1" cy="343.0" r="5.5" fill="#000"/>
<circle cx="580.9" cy="408.4" r="5.5" fill="#000"/>
<circle cx="617.9" cy="415.3" r="5.5" fill="#000"/>
<circle cx="623.0" cy="395.5" r="5.5" fill="#000"/>
<circle cx="624.7" cy="371.1" r="5.5" fill="#000"/>
<circle cx="642.8" cy="371.1" r="5.5" fill="#000"/>
<circle cx="641.9" cy="390.0" r="5.5" fill="#000"/>
<circle cx="643.9" cy="399.5" r="5.5" fill="#000"/>
<circle cx="636.6" cy="316.7" r="5.5" fill="#000"/>
<circle cx="673.5" cy="317.5" r="5.5" fill="#000"/>
<circle cx="707.2" cy="323.1" r="5.5" fill="#000"/>
<circle cx="742.2" cy="329.0" r="5.5" fill="#000"/>
<circle cx="660.7" cy="336.1" r="5.5" fill="#000"/>
<circle cx="655.2" cy="340.4" r="5.5" fill="#000"/>
<circle cx="632.6" cy="345.5" r="5.5" fill="#000"/>
<circle cx="641.5" cy="346.4" r="5.5" fill="#000"/>
<circle cx="650.1" cy="349.8" r="5.5" fill="#000"/>
<circle cx="651.8" cy="355.8" r="5.5" fill="#000"/>
<circle cx="658.1" cy="363.9" r="5.5" fill="#000"/>
<circle cx="681.0" cy="343.8" r="5.5" fill="#000"/>
<circle cx="686.2" cy="347.3" r="5.5" fill="#000"/>
<circle cx="699.6" cy="351.5" r="5.5" fill="#000"/>
<circle cx="691.1" cy="360.8" r="5.5" fill="#000"/>
<circle cx="625.2" cy="371.3" r="5.5" fill="#000"/>
<circle cx="644.1" cy="370.4" r="5.5" fill="#000"/>
<circle cx="650.1" cy="370.4" r="5.5" fill="#000"/>
<circle cx="661.2" cy="386.5" r="5.5" fill="#000"/>
</svg>
</body></html>
